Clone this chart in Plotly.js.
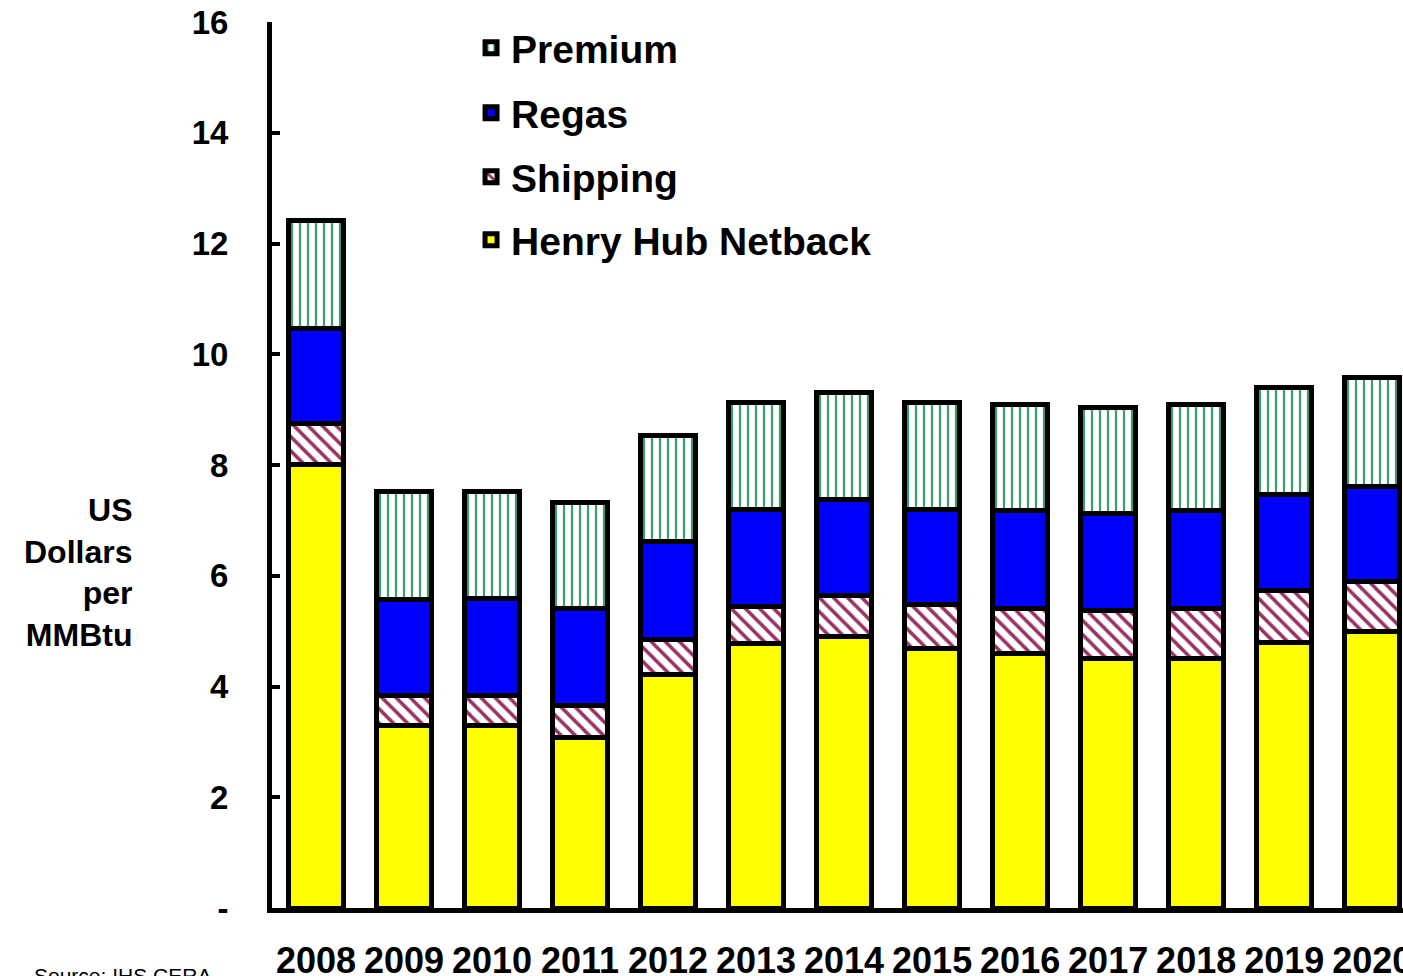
<!DOCTYPE html>
<html>
<head>
<meta charset="utf-8">
<script src="https://cdn.plot.ly/plotly-3.0.1.min.js"></script>
<style>html,body{margin:0;padding:0;background:#fff;}#chart{width:1403px;height:976px;}</style>
</head>
<body>
<div id="chart"></div>
<script>
const years = ['2008','2009','2010','2011','2012','2013','2014','2015','2016','2017','2018','2019','2020'];
const henryHub = [8.01, 3.29, 3.30, 3.08, 4.21, 4.77, 4.91, 4.68, 4.59, 4.50, 4.50, 4.79, 4.99];
const shipping = [0.74, 0.54, 0.54, 0.58, 0.64, 0.68, 0.74, 0.80, 0.82, 0.87, 0.91, 0.95, 0.90];
const regas    = [1.72, 1.74, 1.75, 1.74, 1.76, 1.75, 1.73, 1.72, 1.77, 1.75, 1.77, 1.73, 1.72];
const premium  = [1.95, 1.96, 1.94, 1.92, 1.92, 1.93, 1.93, 1.93, 1.92, 1.92, 1.92, 1.93, 1.97];
const yTickVals = [0, 2, 4, 6, 8, 10, 12, 14, 16];
const yTickText = ['-', '2', '4', '6', '8', '10', '12', '14', '16'];

const FONT = 'Liberation Sans, Arial, Helvetica, sans-serif';
const outline = {color: '#000000', width: 5};
const barW = 0.62;

const traces = [
  {type: 'bar', name: 'Henry Hub Netback', x: years, y: henryHub, width: barW, legend: 'legend4',
   marker: {color: '#FFFF00', line: outline}},
  {type: 'bar', name: 'Shipping', x: years, y: shipping, width: barW, legend: 'legend3',
   marker: {color: '#FFFFFF', line: outline,
            pattern: {shape: '\\', fgcolor: '#993366', bgcolor: '#FFFFFF', size: 10, solidity: 0.35, fillmode: 'replace'}}},
  {type: 'bar', name: 'Regas', x: years, y: regas, width: barW, legend: 'legend2',
   marker: {color: '#0000FF', line: outline}},
  {type: 'bar', name: 'Premium', x: years, y: premium, width: barW, legend: 'legend',
   marker: {color: '#FFFFFF', line: outline,
            pattern: {shape: '|', fgcolor: '#3d9e70', bgcolor: '#FFFFFF', size: 8, solidity: 0.28, fillmode: 'replace'}}}
];

function legendAt(yPaper) {
  return {
    x: 0.176, y: yPaper, xanchor: 'left', yanchor: 'middle',
    font: {family: FONT, size: 39, color: '#000000', weight: 'bold'},
    bgcolor: 'rgba(0,0,0,0)', borderwidth: 0
  };
}

const layout = {
  width: 1403, height: 976,
  margin: {l: 272, r: 0, t: 22, b: 68, pad: 0},
  paper_bgcolor: '#ffffff', plot_bgcolor: '#ffffff',
  barmode: 'stack',
  bargap: 0.3,
  font: {family: FONT, color: '#000000'},
  showlegend: true,
  legend: legendAt(0.9707),
  legend2: legendAt(0.8973),
  legend3: legendAt(0.8251),
  legend4: legendAt(0.754),
  xaxis: {
    type: 'category', range: [-0.5, 12.35],
    showline: true, linecolor: '#000000', linewidth: 5,
    ticks: '', showgrid: false, zeroline: false,
    tickfont: {family: FONT, size: 36, color: '#000000', weight: 'bold'},
    ticklabelstandoff: 17
  },
  yaxis: {
    range: [0, 16],
    showline: true, linecolor: '#000000', linewidth: 5,
    ticks: 'inside', ticklen: 8, tickwidth: 4, tickcolor: '#000000',
    tickvals: yTickVals, ticktext: yTickText,
    showgrid: false, zeroline: false,
    tickfont: {family: FONT, size: 33, color: '#000000', weight: 'bold'},
    ticklabelstandoff: 32
  },
  annotations: [
    {text: 'US<br>Dollars<br>per<br>MMBtu', xref: 'paper', yref: 'paper',
     x: -0.122, y: 0.379, xanchor: 'right', yanchor: 'middle', align: 'right', showarrow: false,
     font: {family: FONT, size: 32, color: '#000000', weight: 'bold'}},
    {text: 'Source: IHS CERA', xref: 'paper', yref: 'paper',
     x: -0.212, y: -0.061, xanchor: 'left', yanchor: 'top', align: 'left', showarrow: false,
     font: {family: FONT, size: 21, color: '#000000'}}
  ]
};

Plotly.newPlot('chart', traces, layout, {displayModeBar: false, staticPlot: true});
</script>
</body>
</html>
